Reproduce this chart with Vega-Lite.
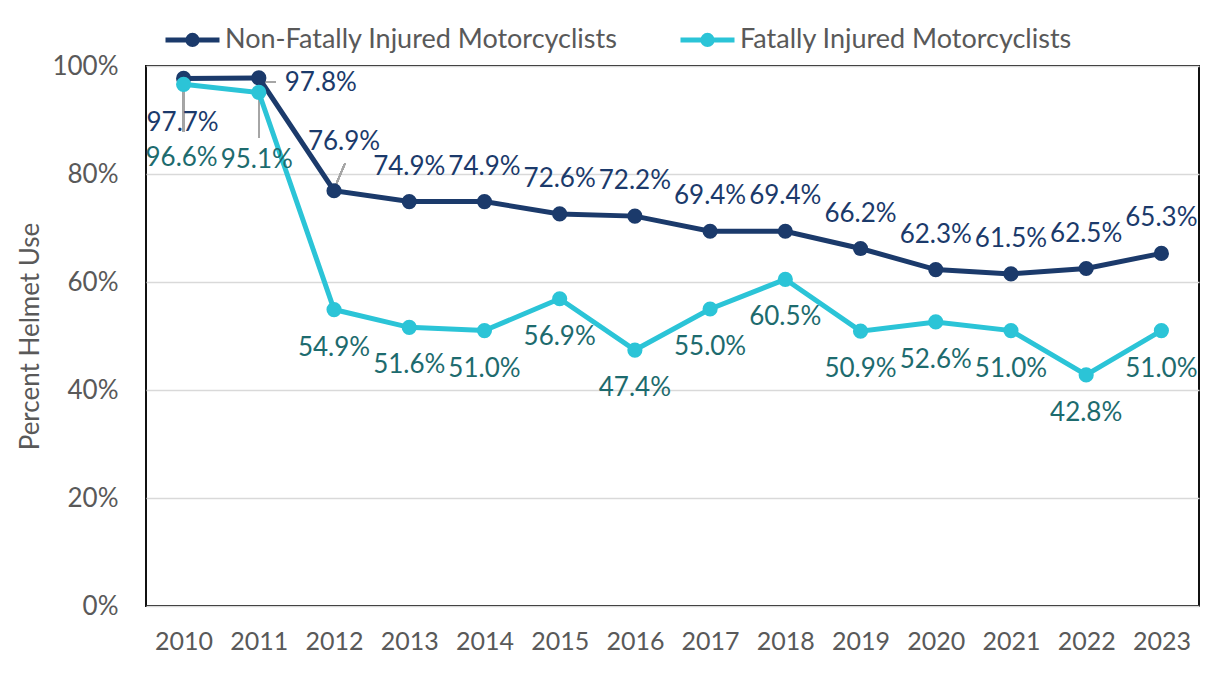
{
  "$schema": "https://vega.github.io/schema/vega-lite/v6.json",
  "width": 1053,
  "height": 540,
  "autosize": {"type": "none"},
  "padding": {"left": 146, "top": 66, "right": 15, "bottom": 68},
  "background": "white",
  "config": {
    "font": "Lato",
    "view": {"stroke": "#111111", "strokeWidth": 2},
    "axis": {"labelFont": "Lato", "titleFont": "Lato"}
  },
  "datasets": {
    "main": [
      {"year": 2010, "series": "Non-Fatally Injured Motorcyclists", "value": 0.977},
      {"year": 2011, "series": "Non-Fatally Injured Motorcyclists", "value": 0.978},
      {"year": 2012, "series": "Non-Fatally Injured Motorcyclists", "value": 0.769},
      {"year": 2013, "series": "Non-Fatally Injured Motorcyclists", "value": 0.749},
      {"year": 2014, "series": "Non-Fatally Injured Motorcyclists", "value": 0.749},
      {"year": 2015, "series": "Non-Fatally Injured Motorcyclists", "value": 0.726},
      {"year": 2016, "series": "Non-Fatally Injured Motorcyclists", "value": 0.722},
      {"year": 2017, "series": "Non-Fatally Injured Motorcyclists", "value": 0.694},
      {"year": 2018, "series": "Non-Fatally Injured Motorcyclists", "value": 0.694},
      {"year": 2019, "series": "Non-Fatally Injured Motorcyclists", "value": 0.662},
      {"year": 2020, "series": "Non-Fatally Injured Motorcyclists", "value": 0.623},
      {"year": 2021, "series": "Non-Fatally Injured Motorcyclists", "value": 0.615},
      {"year": 2022, "series": "Non-Fatally Injured Motorcyclists", "value": 0.625},
      {"year": 2023, "series": "Non-Fatally Injured Motorcyclists", "value": 0.653},
      {"year": 2010, "series": "Fatally Injured Motorcyclists", "value": 0.966},
      {"year": 2011, "series": "Fatally Injured Motorcyclists", "value": 0.951},
      {"year": 2012, "series": "Fatally Injured Motorcyclists", "value": 0.549},
      {"year": 2013, "series": "Fatally Injured Motorcyclists", "value": 0.516},
      {"year": 2014, "series": "Fatally Injured Motorcyclists", "value": 0.510},
      {"year": 2015, "series": "Fatally Injured Motorcyclists", "value": 0.569},
      {"year": 2016, "series": "Fatally Injured Motorcyclists", "value": 0.474},
      {"year": 2017, "series": "Fatally Injured Motorcyclists", "value": 0.550},
      {"year": 2018, "series": "Fatally Injured Motorcyclists", "value": 0.605},
      {"year": 2019, "series": "Fatally Injured Motorcyclists", "value": 0.509},
      {"year": 2020, "series": "Fatally Injured Motorcyclists", "value": 0.526},
      {"year": 2021, "series": "Fatally Injured Motorcyclists", "value": 0.510},
      {"year": 2022, "series": "Fatally Injured Motorcyclists", "value": 0.428},
      {"year": 2023, "series": "Fatally Injured Motorcyclists", "value": 0.510}
    ]
  },
  "data": {"name": "main"},
  "encoding": {
    "x": {
      "field": "year", "type": "ordinal",
      "scale": {"type": "point", "padding": 0.5},
      "axis": {"labelAngle": 0, "labelFontSize": 25, "labelColor": "#595959", "ticks": false, "domain": false, "labelPadding": 23, "title": null, "grid": false}
    },
    "y": {
      "field": "value", "type": "quantitative",
      "scale": {"domain": [0, 1], "nice": false, "zero": true},
      "axis": {"values": [0, 0.2, 0.4, 0.6, 0.8, 1], "format": ".0%", "grid": true, "gridColor": "#D9D9D9", "gridWidth": 1.5, "labelFontSize": 26, "labelColor": "#595959", "ticks": false, "domain": false, "labelPadding": 28, "title": "Percent Helmet Use", "titleFontSize": 26, "titleFontWeight": "normal", "titleColor": "#595959", "titlePadding": 8}
    }
  },
  "layer": [
    {
      "mark": {"type": "rule", "color": "#A6A6A6", "strokeWidth": 1.5},
      "encoding": {"x": {"datum": 2010}, "y": {"datum": 0.966}, "y2": {"datum": 0.878}}
    },
    {
      "mark": {"type": "rule", "color": "#A6A6A6", "strokeWidth": 1.5},
      "encoding": {"x": {"datum": 2011}, "y": {"datum": 0.951}, "y2": {"datum": 0.867}}
    },
    {
      "mark": {"type": "rule", "color": "#A6A6A6", "strokeWidth": 1.5, "xOffset": 2, "x2Offset": 17},
      "encoding": {"x": {"datum": 2011}, "x2": {"datum": 2011}, "y": {"datum": 0.970}}
    },
    {
      "mark": {"type": "rule", "color": "#A6A6A6", "strokeWidth": 1.5, "xOffset": 1, "x2Offset": 11},
      "encoding": {"x": {"datum": 2012}, "x2": {"datum": 2012}, "y": {"datum": 0.776}, "y2": {"datum": 0.820}}
    },
    {
      "mark": {"type": "line", "strokeWidth": 5, "point": {"filled": true, "size": 230}},
      "encoding": {
        "color": {
          "field": "series", "type": "nominal",
          "scale": {"domain": ["Non-Fatally Injured Motorcyclists", "Fatally Injured Motorcyclists"], "range": ["#1B3A6B", "#2BC4D7"]},
          "legend": {
            "title": null, "orient": "none", "legendX": 17, "legendY": -56, "direction": "horizontal",
            "labelFontSize": 27, "labelColor": "#595959", "labelFont": "Lato", "labelLimit": 800, "labelOffset": 3,
            "symbolType": "M-1,0L1,0M0.17,0A0.17,0.17,0,1,1,-0.17,0A0.17,0.17,0,1,1,0.17,0Z",
            "symbolSize": 2916, "symbolStrokeWidth": 5, "columnPadding": 52,
            "encode": {"symbols": {"update": {"fill": {"scale": "color", "field": "value"}, "fillOpacity": {"value": 1}, "opacity": {"value": 1}}}}
          }
        }
      }
    },
    {
      "transform": [{"filter": "datum.series == 'Non-Fatally Injured Motorcyclists' && datum.year >= 2013"}],
      "mark": {"type": "text", "fontSize": 26, "color": "#1B3A6B", "dy": -35, "baseline": "middle"},
      "encoding": {"text": {"field": "value", "format": ".1%"}}
    },
    {
      "transform": [{"filter": "datum.series == 'Non-Fatally Injured Motorcyclists' && datum.year == 2012"}],
      "mark": {"type": "text", "fontSize": 26, "color": "#1B3A6B", "dx": 10, "dy": -49, "baseline": "middle"},
      "encoding": {"text": {"field": "value", "format": ".1%"}}
    },
    {
      "transform": [{"filter": "datum.series == 'Non-Fatally Injured Motorcyclists' && datum.year == 2010"}],
      "mark": {"type": "text", "fontSize": 26, "color": "#1B3A6B", "dx": -1, "dy": 45, "baseline": "middle"},
      "encoding": {"text": {"field": "value", "format": ".1%"}}
    },
    {
      "transform": [{"filter": "datum.series == 'Non-Fatally Injured Motorcyclists' && datum.year == 2011"}],
      "mark": {"type": "text", "fontSize": 26, "color": "#1B3A6B", "dx": 62, "dy": 5, "baseline": "middle"},
      "encoding": {"text": {"field": "value", "format": ".1%"}}
    },
    {
      "transform": [{"filter": "datum.series == 'Fatally Injured Motorcyclists' && datum.year >= 2012"}],
      "mark": {"type": "text", "fontSize": 26, "color": "#1D6B6E", "dy": 38, "baseline": "middle"},
      "encoding": {"text": {"field": "value", "format": ".1%"}}
    },
    {
      "transform": [{"filter": "datum.series == 'Fatally Injured Motorcyclists' && datum.year == 2010"}],
      "mark": {"type": "text", "fontSize": 26, "color": "#1D6B6E", "dx": -2, "dy": 74, "baseline": "middle"},
      "encoding": {"text": {"field": "value", "format": ".1%"}}
    },
    {
      "transform": [{"filter": "datum.series == 'Fatally Injured Motorcyclists' && datum.year == 2011"}],
      "mark": {"type": "text", "fontSize": 26, "color": "#1D6B6E", "dx": -2, "dy": 68, "baseline": "middle"},
      "encoding": {"text": {"field": "value", "format": ".1%"}}
    }
  ]
}
